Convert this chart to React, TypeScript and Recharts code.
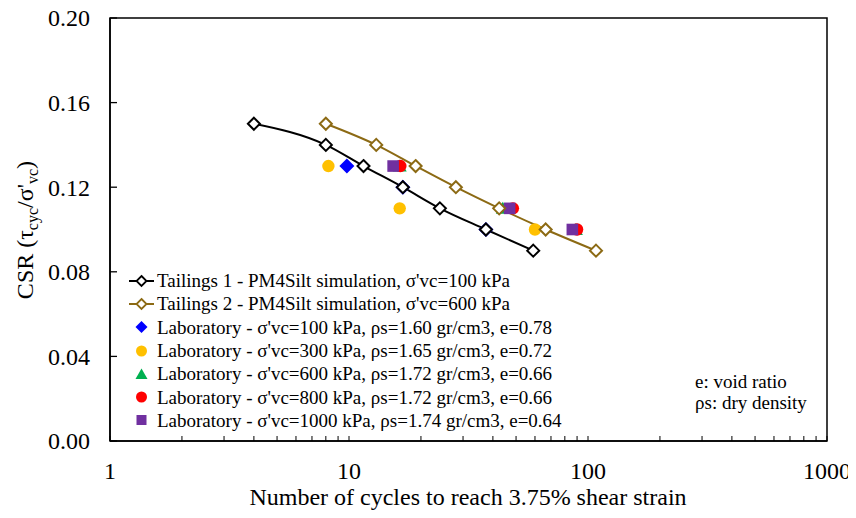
import React from 'react';
import { ComposedChart, Line, Scatter, XAxis, YAxis, ReferenceArea, Legend } from 'recharts';

const FONT = "'Liberation Serif', Tinos, 'Times New Roman', 'DejaVu Serif', serif";

// Simulations (PM4Silt)
const t1Cycles = [4.0, 8.0, 11.5, 16.8, 24.0, 37.4, 59.0];
const t1Csr = [0.15, 0.14, 0.13, 0.12, 0.11, 0.10, 0.09];
const t2Cycles = [8.0, 13.0, 19.0, 28.0, 42.5, 66.5, 108];
const t2Csr = [0.15, 0.14, 0.13, 0.12, 0.11, 0.10, 0.09];

// Laboratory
const lab100Cycles = [9.8, 16.8, 37.4];
const lab100Csr = [0.13, 0.12, 0.10];
const lab300Cycles = [8.2, 16.3, 60.0];
const lab300Csr = [0.13, 0.11, 0.10];
const lab600Cycles = [16.3, 44.0, 89.0];
const lab600Csr = [0.13, 0.11, 0.10];
const lab800Cycles = [16.4, 48.5, 90.0];
const lab800Csr = [0.13, 0.11, 0.10];
const lab1000Cycles = [15.3, 47.0, 86.0];
const lab1000Csr = [0.13, 0.11, 0.10];

const legendLabels = [
  "Tailings 1 - PM4Silt simulation, σ'vc=100 kPa",
  "Tailings 2 - PM4Silt simulation, σ'vc=600 kPa",
  "Laboratory - σ'vc=100 kPa, ρs=1.60 gr/cm3, e=0.78",
  "Laboratory - σ'vc=300 kPa, ρs=1.65 gr/cm3, e=0.72",
  "Laboratory - σ'vc=600 kPa, ρs=1.72 gr/cm3, e=0.66",
  "Laboratory - σ'vc=800 kPa, ρs=1.72 gr/cm3, e=0.66",
  "Laboratory - σ'vc=1000 kPa, ρs=1.74 gr/cm3, e=0.64",
];

const xTicks = [1, 2, 3, 4, 5, 6, 7, 8, 9, 10, 20, 30, 40, 50, 60, 70, 80, 90, 100, 200, 300, 400, 500, 600, 700, 800, 900, 1000];
const xMajorTicks = [1, 10, 100, 1000];
const yTicks = [0, 0.04, 0.08, 0.12, 0.16, 0.2];

const annotationLines = ['e: void ratio', 'ρs: dry density'];

const C_T1 = '#000000';
const C_T2 = '#8C6A14';
const C_BLUE = '#0000FF';
const C_YELLOW = '#FFC000';
const C_GREEN = '#00B050';
const C_RED = '#FF0000';
const C_PURPLE = '#7030A0';

const toData = (xs: number[], ys: number[]) => xs.map((n, i) => ({ n, csr: ys[i] }));

const t1Data = toData(t1Cycles, t1Csr);
const t2Data = toData(t2Cycles, t2Csr);
const lab100 = toData(lab100Cycles, lab100Csr);
const lab300 = toData(lab300Cycles, lab300Csr);
const lab600 = toData(lab600Cycles, lab600Csr);
const lab800 = toData(lab800Cycles, lab800Csr);
const lab1000 = toData(lab1000Cycles, lab1000Csr);

const diamondPath = (cx: number, cy: number, h: number) =>
  `M${cx},${cy - h}L${cx + h},${cy}L${cx},${cy + h}L${cx - h},${cy}Z`;

const hollowDot = (color: string) => (props: any) => {
  const { cx, cy, index } = props;
  if (cx == null || cy == null) return <g key={`d-${index}`} />;
  return <path key={`d-${index}`} d={diamondPath(cx, cy, 6)} fill="#fff" stroke={color} strokeWidth={2} />;
};

const DiamondShape = (props: any) => {
  const { cx, cy } = props;
  return <path d={diamondPath(cx, cy, 7.5)} fill={C_BLUE} />;
};
const circleShape = (color: string) => (props: any) => {
  const { cx, cy } = props;
  return <circle cx={cx} cy={cy} r={6.2} fill={color} />;
};
const TriangleShape = (props: any) => {
  const { cx, cy } = props;
  return <path d={`M${cx},${cy - 6.5}L${cx + 7},${cy + 5.5}L${cx - 7},${cy + 5.5}Z`} fill={C_GREEN} />;
};
const SquareShape = (props: any) => {
  const { cx, cy } = props;
  return <rect x={cx - 5.8} y={cy - 5.8} width={11.6} height={11.6} fill={C_PURPLE} />;
};

const YTick = (props: any) => {
  const { x, y, payload } = props;
  return (
    <g>
      <line x1={x} x2={x + 7} y1={y} y2={y} stroke="#000" strokeWidth={1.3} />
      <text x={x - 20} y={y} dy="0.35em" textAnchor="end" fontSize={24} style={{ fontFamily: FONT }} fill="#000">
        {Number(payload.value).toFixed(2)}
      </text>
    </g>
  );
};

const XTick = (props: any) => {
  const { x, y, payload } = props;
  const v = payload.value;
  const major = xMajorTicks.includes(v);
  return (
    <g>
      <line x1={x} x2={x} y1={y} y2={y - 5} stroke="#000" strokeWidth={1} />
      {major && (
        <text x={x} y={y + 38} textAnchor="middle" fontSize={24} style={{ fontFamily: FONT }} fill="#000">
          {String(v)}
        </text>
      )}
    </g>
  );
};

const LegendIcon = ({ kind }: { kind: number }) => {
  const w = 28;
  const h = 16;
  const cx = 13.5;
  const cy = 8;
  let el: any = null;
  if (kind === 0 || kind === 1) {
    const c = kind === 0 ? C_T1 : C_T2;
    el = (
      <g>
        <line x1={1} x2={26} y1={cy} y2={cy} stroke={c} strokeWidth={2} />
        <path d={diamondPath(cx, cy, 5)} fill="#fff" stroke={c} strokeWidth={1.8} />
      </g>
    );
  } else if (kind === 2) {
    el = <path d={diamondPath(cx, cy, 6)} fill={C_BLUE} />;
  } else if (kind === 3) {
    el = <circle cx={cx} cy={cy} r={5.5} fill={C_YELLOW} />;
  } else if (kind === 4) {
    el = <path d={`M${cx},${cy - 5.5}L${cx + 6},${cy + 5}L${cx - 6},${cy + 5}Z`} fill={C_GREEN} />;
  } else if (kind === 5) {
    el = <circle cx={cx} cy={cy} r={5.5} fill={C_RED} />;
  } else {
    el = <rect x={cx - 5} y={cy - 5} width={10} height={10} fill={C_PURPLE} />;
  }
  return (
    <svg width={w} height={h} style={{ display: 'block', flex: '0 0 auto' }}>
      {el}
    </svg>
  );
};

const renderLegend = () => (
  <div style={{ fontFamily: FONT, fontSize: 19, color: '#000' }}>
    {legendLabels.map((label, i) => (
      <div key={label} style={{ display: 'flex', alignItems: 'center', height: 23.3, whiteSpace: 'nowrap' }}>
        <LegendIcon kind={i} />
        <span style={{ marginLeft: 1, lineHeight: '23px' }}>{label}</span>
      </div>
    ))}
  </div>
);

const W = 856;
const H = 518;

export default function App() {
  return (
    <div
      style={{
        position: 'relative',
        width: W,
        height: H,
        margin: -8,
        background: '#fff',
        fontFamily: FONT,
      }}
    >
      <ComposedChart width={W} height={H} margin={{ top: 18, right: 29, bottom: 17, left: 50 }} style={{ fontFamily: FONT }}>
        <XAxis
          dataKey="n"
          type="number"
          scale="log"
          domain={[1, 1000]}
          allowDataOverflow
          ticks={xTicks}
          interval={0}
          height={60}
          tickSize={0}
          tickMargin={0}
          tickLine={false}
          axisLine={{ stroke: '#000', strokeWidth: 1.5 }}
          tick={XTick}
        />
        <YAxis
          dataKey="csr"
          type="number"
          domain={[0, 0.2]}
          allowDataOverflow
          ticks={yTicks}
          interval={0}
          width={60}
          tickSize={0}
          tickMargin={0}
          tickLine={false}
          axisLine={{ stroke: '#000', strokeWidth: 1.5 }}
          tick={YTick}
        />
        <ReferenceArea x1={1} x2={1000} y1={0} y2={0.2} fill="none" fillOpacity={0} stroke="#000" strokeWidth={1.5} />
        <Line
          data={t1Data}
          dataKey="csr"
          type="monotone"
          stroke={C_T1}
          strokeWidth={2}
          dot={hollowDot(C_T1)}
          activeDot={false}
          isAnimationActive={false}
        />
        <Line
          data={t2Data}
          dataKey="csr"
          type="monotone"
          stroke={C_T2}
          strokeWidth={2}
          dot={hollowDot(C_T2)}
          activeDot={false}
          isAnimationActive={false}
        />
        <Scatter data={lab100} dataKey="csr" fill={C_BLUE} shape={DiamondShape} isAnimationActive={false} />
        <Scatter data={lab300} dataKey="csr" fill={C_YELLOW} shape={circleShape(C_YELLOW)} isAnimationActive={false} />
        <Scatter data={lab600} dataKey="csr" fill={C_GREEN} shape={TriangleShape} isAnimationActive={false} />
        <Scatter data={lab800} dataKey="csr" fill={C_RED} shape={circleShape(C_RED)} isAnimationActive={false} />
        <Scatter data={lab1000} dataKey="csr" fill={C_PURPLE} shape={SquareShape} isAnimationActive={false} />
        <Legend
          layout="vertical"
          align="center"
          verticalAlign="middle"
          content={renderLegend}
          wrapperStyle={{ left: 128, top: 269, width: 'auto', height: 'auto' }}
        />
      </ComposedChart>
      <svg
        width={W}
        height={H}
        style={{ position: 'absolute', left: 0, top: 0, pointerEvents: 'none', fontFamily: FONT }}
      >
        <text x={468} y={505} textAnchor="middle" fontSize={24} fill="#000">
          Number of cycles to reach 3.75% shear strain
        </text>
        <text transform="rotate(-90)" x={-230} y={33} textAnchor="middle" fontSize={24} fill="#000">
          CSR (τ
          <tspan fontSize={16} dy={5}>cyc</tspan>
          <tspan dy={-5}>/σ'</tspan>
          <tspan fontSize={16} dy={5}>vc</tspan>
          <tspan dy={-5}>)</tspan>
        </text>
        {annotationLines.map((t, i) => (
          <text key={t} x={695} y={388 + i * 21} fontSize={19} fill="#000">
            {t}
          </text>
        ))}
      </svg>
    </div>
  );
}
